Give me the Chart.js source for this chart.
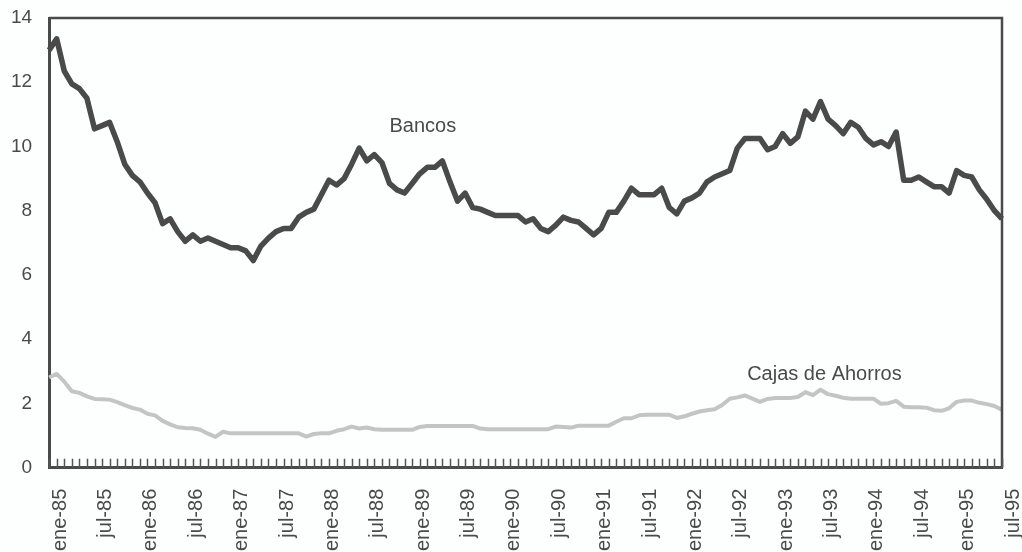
<!DOCTYPE html>
<html>
<head>
<meta charset="utf-8">
<script src="https://cdn.jsdelivr.net/npm/chart.js@4/dist/chart.umd.min.js"></script>
<style>
  body { margin: 0; background: #fdfefe; }
  #wrap { width: 1022px; height: 552px; position: relative; }
</style>
</head>
<body>
<div id="wrap"><canvas id="myChart"></canvas></div>
<script>
// meses y años del eje x (ene-85 ... jul-95)
const meses = ["ene", "feb", "mar", "abr", "may", "jun", "jul", "ago", "sep", "oct", "nov", "dic"];
const anios = ["85", "86", "87", "88", "89", "90", "91", "92", "93", "94", "95"];

// valores, uno por mes
const bancos = [
  13.0, 13.35, 12.35, 11.95, 11.8, 11.5, 10.55, 10.65, 10.75, 10.15, 9.45, 9.1,
  8.9, 8.55, 8.25, 7.6, 7.75, 7.35, 7.05, 7.25, 7.05, 7.15, 7.05, 6.95,
  6.85, 6.85, 6.75, 6.45, 6.9, 7.15, 7.35, 7.45, 7.45, 7.8, 7.95, 8.05,
  8.5, 8.95, 8.8, 9.0, 9.45, 9.95, 9.55, 9.75, 9.5, 8.85, 8.65, 8.55,
  8.85, 9.15, 9.35, 9.35, 9.55, 8.9, 8.3, 8.55, 8.1, 8.05, 7.95, 7.85,
  7.85, 7.85, 7.85, 7.65, 7.75, 7.45, 7.35, 7.55, 7.8, 7.7, 7.65, 7.45,
  7.25, 7.45, 7.95, 7.95, 8.3, 8.7, 8.5, 8.5, 8.5, 8.7, 8.1, 7.9,
  8.3, 8.4, 8.55, 8.9, 9.05, 9.15, 9.25, 9.95, 10.25, 10.25, 10.25, 9.9,
  10.0, 10.4, 10.1, 10.3, 11.1, 10.85, 11.4, 10.85, 10.65, 10.4, 10.75, 10.6,
  10.25, 10.05, 10.15, 10.0, 10.45, 8.95, 8.95, 9.05, 8.9, 8.75, 8.75, 8.55,
  9.25, 9.1, 9.05, 8.65, 8.35, 8.0, 7.75
];
const cajas = [
  2.81, 2.92, 2.68, 2.38, 2.33, 2.22, 2.14, 2.13, 2.12, 2.04, 1.95, 1.86,
  1.81, 1.68, 1.63, 1.46, 1.35, 1.26, 1.24, 1.23, 1.18, 1.06, 0.96, 1.12,
  1.07, 1.07, 1.07, 1.07, 1.07, 1.07, 1.07, 1.07, 1.07, 1.07, 0.97, 1.05,
  1.07, 1.07, 1.15, 1.2, 1.28, 1.22, 1.25, 1.2, 1.18, 1.18, 1.18, 1.18,
  1.18, 1.27, 1.3, 1.3, 1.3, 1.3, 1.3, 1.3, 1.3, 1.22, 1.2, 1.2,
  1.2, 1.2, 1.2, 1.2, 1.2, 1.2, 1.2, 1.28, 1.27, 1.25, 1.31, 1.31,
  1.31, 1.31, 1.31, 1.43, 1.54, 1.54, 1.63, 1.65, 1.65, 1.65, 1.65, 1.55,
  1.6, 1.68, 1.75, 1.79, 1.82, 1.95, 2.15, 2.19, 2.25, 2.15, 2.05, 2.14,
  2.17, 2.17, 2.17, 2.2, 2.35, 2.26, 2.43, 2.29, 2.24, 2.18, 2.15, 2.15,
  2.15, 2.15, 1.99, 2.01, 2.08, 1.9, 1.88, 1.88, 1.87, 1.79, 1.77, 1.85,
  2.05, 2.09, 2.09, 2.02, 1.98, 1.92, 1.8
];

// rótulos de las series dentro del gráfico (índice de mes, valor)
const notaTexto = ["Bancos", "Cajas de Ahorros"];
const notaMes = [45, 92.3];
const notaValor = [10.45, 2.72];

let categorias = [];
anios.forEach(a => {
  meses.forEach(m => {
    if (categorias.length < bancos.length) categorias.push(m + "-" + a);
  });
});

const fuente = "'Liberation Sans', Arial, sans-serif";
const gris = "#4a4a4a";

const marco = {
  id: "marco",
  afterDraw(chart) {
    const a = chart.chartArea;
    const ctx = chart.ctx;
    const x = chart.scales.x, y = chart.scales.y;
    ctx.save();
    // marco superior y derecho
    ctx.strokeStyle = gris;
    ctx.lineWidth = 2.5;
    ctx.beginPath();
    ctx.moveTo(a.left, a.top);
    ctx.lineTo(a.right, a.top);
    ctx.lineTo(a.right, a.bottom);
    ctx.stroke();
    // marcas mensuales hacia dentro
    ctx.strokeStyle = "#555";
    ctx.lineWidth = 1.5;
    ctx.beginPath();
    x.ticks.forEach((t, i) => {
      const px = Math.round(x.getPixelForTick(i)) + 0.5;
      ctx.moveTo(px, a.bottom);
      ctx.lineTo(px, a.bottom - 9);
    });
    ctx.stroke();
    // rótulos
    ctx.fillStyle = "#4a4a4a";
    ctx.font = "20px " + fuente;
    ctx.textAlign = "left";
    ctx.textBaseline = "alphabetic";
    for (let i = 0; i < notaTexto.length; i++) {
      const px = x.getPixelForValue(0) + (x.getPixelForValue(1) - x.getPixelForValue(0)) * notaMes[i];
      ctx.fillText(notaTexto[i], px, y.getPixelForValue(notaValor[i]));
    }
    ctx.restore();
  }
};

const ctx = document.getElementById('myChart').getContext('2d');
const myChart = new Chart(ctx, {
  type: 'line',
  data: {
    labels: categorias,
    datasets: [
      {
        label: 'Cajas de Ahorros',
        data: cajas,
        borderColor: '#c3c5c4',
        borderWidth: 4,
        pointRadius: 0,
        tension: 0,
        fill: false,
        borderJoinStyle: 'round'
      },
      {
        label: 'Bancos',
        data: bancos,
        borderColor: '#4a4a4a',
        borderWidth: 5.5,
        pointRadius: 0,
        tension: 0,
        fill: false,
        borderJoinStyle: 'round'
      }
    ]
  },
  options: {
    responsive: true,
    maintainAspectRatio: false,
    animation: false,
    layout: { padding: { left: 5, top: 18, right: 20, bottom: 1 } },
    plugins: {
      legend: { display: false },
      tooltip: { enabled: false }
    },
    scales: {
      x: {
        offset: false,
        grid: { display: true, drawOnChartArea: false, drawTicks: true, tickLength: 21, tickColor: 'rgba(0,0,0,0)' },
        border: { display: true, color: gris, width: 3 },
        ticks: {
          autoSkip: false,
          minRotation: 90,
          maxRotation: 90,
          padding: 0,
          labelOffset: 11,
          color: '#4a4a4a',
          font: { family: fuente, size: 20, lineHeight: 1 },
          callback: (v, i) => i % 6 === 0 ? categorias[i] : ''
        }
      },
      y: {
        min: 0,
        max: 14,
        grid: { display: true, drawOnChartArea: false, drawTicks: true, tickLength: 11, tickColor: 'rgba(0,0,0,0)' },
        border: { display: true, color: gris, width: 3 },
        ticks: {
          stepSize: 2,
          padding: 6,
          color: '#4a4a4a',
          font: { family: fuente, size: 19 }
        }
      }
    }
  },
  plugins: [marco]
});
</script>
</body>
</html>
